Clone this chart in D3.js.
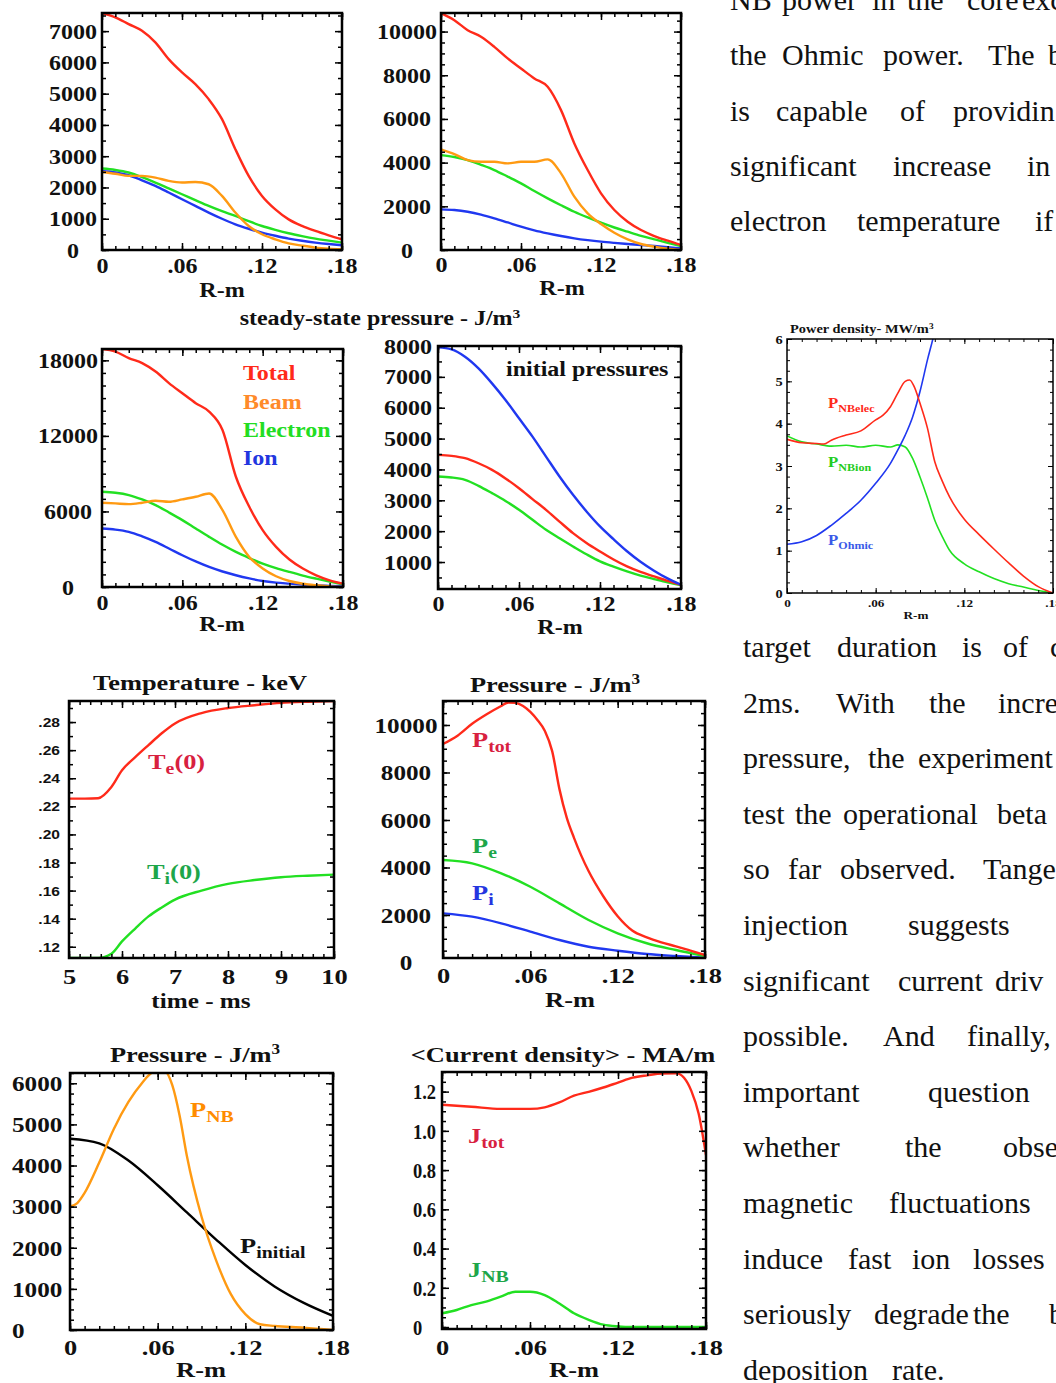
<!DOCTYPE html>
<html>
<head>
<meta charset="utf-8">
<script src="https://cdn.jsdelivr.net/npm/d3@7"></script>
<style>
  body { margin: 0; background: #fff; }
  svg { display: block; }
</style>
</head>
<body>
<svg id="fig" width="1056" height="1383"></svg>
<script>
// ---------------- data ----------------
// radius grids, m
var rFine = [0, .01, .02, .03, .04, .05, .06, .07, .08, .09, .10, .11, .12, .13, .14, .15, .16, .17, .18];
var rCoarse = [0, .02, .04, .06, .08, .10, .12, .14, .16, .18];

// steady-state pressure, top left (J/m3)
var ssA_total = [7580, 7440, 7225, 7010, 6640, 6105, 5680, 5305, 4825, 4185, 3225, 2370, 1730, 1300, 980, 770, 610, 470, 340];
var ssA_beam  = [2497, 2440, 2370, 2370, 2317, 2210, 2157, 2176, 2103, 1729, 1197, 768, 503, 342, 214, 140, 77, 40, 22];
var ssA_elec  = [2605, 2560, 2478, 2330, 2157, 1970, 1783, 1595, 1409, 1240, 1088, 920, 768, 645, 535, 445, 365, 300, 237];
var ssA_ion   = [2530, 2480, 2390, 2230, 2050, 1840, 1623, 1410, 1197, 1000, 823, 680, 557, 455, 365, 295, 237, 190, 150];

// steady-state pressure, top middle
var ssB_total = [10840, 10520, 10065, 9760, 9300, 8770, 8310, 7855, 7470, 6404, 4880, 3660, 2595, 1830, 1295, 915, 640, 425, 229];
var ssB_beam  = [4605, 4390, 4117, 4040, 4040, 3965, 4040, 4040, 4150, 3510, 2440, 1680, 1190, 793, 488, 275, 153, 60, 0];
var ssB_elec  = [4346, 4260, 4117, 3900, 3660, 3360, 3050, 2700, 2365, 2050, 1750, 1490, 1250, 1030, 838, 650, 488, 330, 183];
var ssB_ion   = [1860, 1830, 1750, 1620, 1450, 1260, 1067, 900, 762, 640, 534, 450, 381, 325, 275, 228, 183, 130, 76];

// steady-state pressure with legend, second row left
var ssC_total = [18900, 18700, 18180, 17780, 17110, 16190, 15390, 14600, 13930, 12470, 8756, 6370, 4513, 3184, 2180, 1465, 931, 533, 268];
var ssC_beam  = [6690, 6637, 6583, 6690, 6850, 6770, 6957, 7164, 7430, 6105, 3980, 2388, 1465, 851, 478, 260, 135, 50, 0];
var ssC_elec  = [7562, 7480, 7300, 6950, 6503, 5920, 5309, 4640, 3980, 3350, 2786, 2300, 1858, 1500, 1194, 910, 663, 430, 212];
var ssC_ion   = [4645, 4560, 4380, 4020, 3582, 3060, 2523, 2030, 1592, 1230, 931, 680, 478, 350, 268, 190, 135, 90, 56];

// initial pressures
var initRed   = [4472, 4440, 4364, 4200, 3987, 3710, 3393, 3040, 2692, 2310, 1937, 1620, 1343, 1080, 858, 680, 534, 390, 264];
var initGreen = [3771, 3740, 3663, 3470, 3232, 2980, 2692, 2370, 2045, 1770, 1506, 1250, 1020, 850, 696, 560, 448, 340, 250];
var initBlue  = [7954, 7889, 7652, 7274, 6789, 6250, 5657, 5063, 4416, 3771, 3177, 2638, 2153, 1740, 1350, 1010, 720, 470, 264];

// power density inset (MW/m3)
var pdElecR = [0, .01, .02, .025, .03, .04, .05, .06, .065, .07, .075, .08, .083, .086, .09, .095, .10, .105, .11, .12, .13, .14, .15, .16, .17, .18];
var pdElec  = [3.63, 3.55, 3.53, 3.52, 3.61, 3.73, 3.83, 4.09, 4.2, 4.4, 4.72, 5.0, 5.03, 4.88, 4.48, 3.9, 3.1, 2.65, 2.27, 1.74, 1.38, 1.04, 0.71, 0.40, 0.15, 0];
var pdIonR  = [0, .01, .02, .03, .04, .05, .06, .07, .075, .08, .085, .09, .095, .10, .105, .11, .12, .13, .14, .15, .16, .17, .18];
var pdIon   = [3.71, 3.57, 3.52, 3.47, 3.49, 3.45, 3.49, 3.45, 3.5, 3.45, 3.18, 2.74, 2.25, 1.72, 1.34, 1.01, 0.69, 0.50, 0.34, 0.22, 0.14, 0.06, 0];
var pdOhmR  = [0, .01, .02, .03, .04, .05, .06, .07, .075, .08, .085, .09, .095, .10, .105];
var pdOhm   = [1.15, 1.21, 1.36, 1.60, 1.88, 2.19, 2.59, 3.06, 3.38, 3.73, 4.16, 4.76, 5.5, 6.2, 7.2];

// central temperatures vs time (ms, keV)
var tTime = [5, 5.3, 5.55, 5.8, 6, 6.25, 6.5, 6.75, 7, 7.5, 8, 8.5, 9, 9.5, 10];
var tElec = [0.2255, 0.2255, 0.2258, 0.2338, 0.2457, 0.255, 0.2636, 0.272, 0.279, 0.2864, 0.290, 0.292, 0.2937, 0.2945, 0.295];
var tIon  = [0.112, 0.112, 0.112, 0.115, 0.1238, 0.133, 0.1416, 0.148, 0.1536, 0.160, 0.1648, 0.1675, 0.1695, 0.1706, 0.1714];

// pressure profiles (J/m3)
var prTotR = [0, .01, .02, .03, .04, .045, .05, .055, .06, .065, .07, .075, .08, .085, .09, .095, .10, .11, .12, .13, .14, .15, .16, .17, .18];
var prTot  = [9200, 9550, 10050, 10450, 10800, 10950, 10930, 10800, 10550, 10200, 9750, 8900, 7300, 6100, 5250, 4500, 3850, 2800, 1950, 1350, 1060, 850, 680, 500, 316];
var prElec = [4316, 4176, 3755, 3190, 2490, 1790, 1230, 810, 526, 274];
var prIon  = [2070, 1930, 1650, 1300, 947, 665, 497, 358, 274, 203];

// beam vs initial pressure (J/m3)
var nbR    = [0, .005, .01, .02, .03, .04, .05, .055, .06, .065, .07, .075, .08, .09, .10, .11, .12, .13, .14, .16, .18];
var nbBeam = [3005, 3088, 3334, 4071, 4890, 5545, 6037, 6230, 6300, 6290, 5953, 5216, 4233, 2760, 1695, 877, 386, 140, 98, 57, 0];
var pInit  = [4650, 4540, 4120, 3520, 2860, 2200, 1580, 1060, 660, 344];

// current density (MA/m2)
var jTotR = [0, .02, .04, .06, .07, .08, .09, .10, .11, .12, .13, .14, .15, .16, .165, .17, .175, .18];
var jTot  = [1.133, 1.123, 1.112, 1.112, 1.12, 1.145, 1.179, 1.199, 1.221, 1.246, 1.271, 1.283, 1.292, 1.293, 1.271, 1.204, 1.087, 0.877];
var jNbR  = [0, .01, .02, .03, .04, .05, .06, .07, .08, .09, .10, .11, .12, .13, .15, .18];
var jNb   = [0.07, 0.087, 0.112, 0.13, 0.155, 0.18, 0.18, 0.163, 0.12, 0.07, 0.037, 0.012, 0.003, 0, 0, 0];

// tick labels
var rTicks = [0, .06, .12, .18];
var timeTicks = [5, 6, 7, 8, 9, 10];

// ---------------- drawing ----------------
var svg = d3.select("#fig");
var SERIF = "'Liberation Serif', 'Times New Roman', Times, serif";
var SANS = "'Liberation Sans', Arial, Helvetica, sans-serif";
var SX = 1.2;   // the figure is stretched sideways
var RED = "#ff2a1a", ORANGE = "#ff9a12", GREEN = "#22e022", BLUE = "#2038f0";
var CRIMSON = "#d8213f", DKGREEN = "#1ea64a";
var clipN = 0;

var fmtR = function (v) { return v === 0 ? "0" : d3.format(".2f")(v).replace(/^0/, ""); };

function steps(lo, hi, step) {
  var n = Math.round((hi - lo) / step), out = [];
  for (var i = 0; i <= n; i++) out.push(+(lo + i * step).toFixed(6));
  return out;
}

function within(d, vals) {
  var lo = Math.min(d[0], d[1]), hi = Math.max(d[0], d[1]);
  return vals.filter(function (v) { return v >= lo - 1e-9 && v <= hi + 1e-9; });
}

// text with optional sub/superscript pieces
function label(parent, x, y, parts, o) {
  o = o || {};
  var size = o.size || 20;
  var t = parent.append("text")
    .attr("transform", "translate(" + x + "," + y + ") scale(" + (o.sx || SX) + ",1)")
    .attr("text-anchor", o.anchor || "start")
    .attr("font-family", o.family || SERIF)
    .attr("font-weight", o.weight || "bold")
    .attr("font-size", size)
    .attr("fill", o.color || "#111");
  var shift = 0;
  parts.forEach(function (p) {
    var s = typeof p === "string" ? [p, ""] : p;
    var to = s[1] === "sub" ? size * (o.drop || 0.22) : s[1] === "sup" ? -size * 0.35 : 0;
    var ts = t.append("tspan").text(s[0]).attr("dy", to - shift);
    if (s[1]) ts.attr("font-size", size * (s[1] === "sub" ? (o.subScale || 0.75) : 0.65));
    shift = to;
  });
  return t;
}

function ticks(g, s, side, vals, size, b, w) {
  var gen = side === "bottom" ? d3.axisBottom(s) : side === "top" ? d3.axisTop(s)
          : side === "left" ? d3.axisLeft(s) : d3.axisRight(s);
  var pos = side === "bottom" ? [0, b[3]] : side === "top" ? [0, b[2]]
          : side === "left" ? [b[0], 0] : [b[1], 0];
  g.append("g").attr("transform", "translate(" + pos + ")")
    .call(gen.tickValues(vals).tickSize(-size).tickFormat(""))
    .call(function (a) { a.select(".domain").remove(); a.selectAll("text").remove(); })
    .selectAll("line").attr("stroke", "#000").attr("stroke-width", w);
}

function panel(c) {
  var b = c.box, g = svg.append("g");
  var x = d3.scaleLinear().domain(c.xd).range([b[0], b[1]]);
  var y = d3.scaleLinear().domain(c.yd).range([b[3], b[2]]);
  var id = "clip" + (clipN++);
  g.append("clipPath").attr("id", id).append("rect")
    .attr("x", b[0]).attr("y", b[2]).attr("width", b[1] - b[0]).attr("height", b[3] - b[2]);

  var line = d3.line()
    .x(function (d) { return x(d[0]); })
    .y(function (d) { return y(d[1]); })
    .curve(d3.curveMonotoneX);
  c.series.forEach(function (s) {
    g.append("path").datum(d3.zip(s[0], s[1]))
      .attr("clip-path", "url(#" + id + ")")
      .attr("fill", "none").attr("stroke", s[2]).attr("stroke-width", c.lineW || 2.4)
      .attr("stroke-linejoin", "round").attr("d", line);
  });

  var tk = c.tick || [7, 4], tw = c.tickW || 1.5;
  ["bottom", "top"].forEach(function (side) {
    ticks(g, x, side, within(c.xd, c.xMinor), tk[1], b, tw);
    ticks(g, x, side, within(c.xd, c.xMajor), tk[0], b, tw);
  });
  ["left", "right"].forEach(function (side) {
    ticks(g, y, side, within(c.yd, c.yMinor), tk[1], b, tw);
    ticks(g, y, side, within(c.yd, c.yMajor), tk[0], b, tw);
  });
  g.append("rect").attr("x", b[0]).attr("y", b[2])
    .attr("width", b[1] - b[0]).attr("height", b[3] - b[2])
    .attr("fill", "none").attr("stroke", "#000").attr("stroke-width", c.frameW || 2.5);

  // x tick labels
  var xl = c.xLab;
  var ax = g.append("g").attr("transform", "translate(0," + xl.y + ")")
    .call(d3.axisBottom(x).tickValues(xl.vals).tickFormat(xl.fmt).tickSize(0));
  ax.select(".domain").remove();
  ax.attr("font-family", SERIF).attr("font-size", xl.size).attr("font-weight", "bold").attr("color", "#111");
  ax.selectAll("text").attr("y", 0).attr("dy", "0.35em").attr("transform", "scale(" + (xl.sx || SX) + ",1)");

  // y tick labels
  var yl = c.yLab;
  var ay = g.append("g").attr("transform", "translate(" + yl.x + ",0)")
    .call(d3.axisLeft(y).tickValues(yl.vals).tickFormat(yl.fmt).tickSize(0));
  ay.select(".domain").remove();
  ay.attr("font-family", yl.family || SERIF).attr("font-size", yl.size).attr("font-weight", "bold")
    .attr("color", "#111").attr("text-anchor", yl.anchor);
  ay.selectAll("text").attr("x", 0).attr("dy", "0.35em").attr("transform", "scale(" + (yl.sx || SX) + ",1)");

  return {g: g, x: x, y: y};
}

// ---- row 1: steady-state pressure
var p1 = panel({
  box: [102, 342, 13, 250], xd: [0, .18], yd: [0, 7580],
  series: [[rFine, ssA_elec, GREEN], [rFine, ssA_ion, BLUE], [rFine, ssA_beam, ORANGE], [rFine, ssA_total, RED]],
  xMajor: rTicks, xMinor: steps(0, .18, .01), yMajor: steps(0, 7000, 1000), yMinor: steps(0, 7500, 500),
  xLab: {vals: rTicks, fmt: fmtR, y: 266, size: 20},
  yLab: {vals: steps(0, 7000, 1000), fmt: d3.format("d"), x: 73, anchor: "middle", size: 20}
});
label(p1.g, 222, 297, ["R-m"], {anchor: "middle", size: 20});

var p2 = panel({
  box: [441, 681, 13, 250], xd: [0, .18], yd: [0, 10850],
  series: [[rFine, ssB_elec, GREEN], [rFine, ssB_ion, BLUE], [rFine, ssB_beam, ORANGE], [rFine, ssB_total, RED]],
  xMajor: rTicks, xMinor: steps(0, .18, .01), yMajor: steps(0, 10000, 2000), yMinor: steps(0, 10500, 500),
  xLab: {vals: rTicks, fmt: fmtR, y: 265, size: 20},
  yLab: {vals: steps(0, 10000, 2000), fmt: d3.format("d"), x: 407, anchor: "middle", size: 20}
});
label(p2.g, 562, 295, ["R-m"], {anchor: "middle", size: 20});
label(svg, 380, 325, ["steady-state pressure - J/m", ["3", "sup"]], {anchor: "middle", size: 20});

// ---- row 2
var p3 = panel({
  box: [102, 343, 349, 587], xd: [0, .18], yd: [0, 18900],
  series: [[rFine, ssC_elec, GREEN], [rFine, ssC_ion, BLUE], [rFine, ssC_beam, ORANGE], [rFine, ssC_total, RED]],
  xMajor: rTicks, xMinor: steps(0, .18, .01), yMajor: steps(0, 18000, 6000), yMinor: steps(0, 18000, 1000),
  xLab: {vals: rTicks, fmt: fmtR, y: 603, size: 20},
  yLab: {vals: steps(0, 18000, 6000), fmt: d3.format("d"), x: 68, anchor: "middle", size: 20}
});
label(p3.g, 222, 631, ["R-m"], {anchor: "middle", size: 20});
label(p3.g, 243, 380, ["Total"], {size: 20, color: "#ff2a1a"});
label(p3.g, 243, 409, ["Beam"], {size: 20, color: "#ff8a2a"});
label(p3.g, 243, 437, ["Electron"], {size: 20, color: "#22dd22"});
label(p3.g, 243, 465, ["Ion"], {size: 20, color: "#2236e0"});

var p4 = panel({
  box: [438, 681, 346, 589], xd: [0, .18], yd: [126, 8000],
  series: [[rFine, initGreen, GREEN], [rFine, initRed, RED], [rFine, initBlue, BLUE]],
  xMajor: rTicks, xMinor: steps(0, .18, .01), yMajor: steps(1000, 8000, 1000), yMinor: steps(500, 8000, 500),
  xLab: {vals: rTicks, fmt: fmtR, y: 604, size: 20},
  yLab: {vals: steps(1000, 8000, 1000), fmt: d3.format("d"), x: 408, anchor: "middle", size: 20}
});
label(p4.g, 560, 634, ["R-m"], {anchor: "middle", size: 20});
label(p4.g, 506, 376, ["initial pressures"], {size: 20});

// ---- power density inset
var p5 = panel({
  box: [787, 1053, 339, 593], xd: [0, .18], yd: [0, 6],
  series: [[pdIonR, pdIon, GREEN], [pdOhmR, pdOhm, BLUE], [pdElecR, pdElec, RED]],
  xMajor: rTicks, xMinor: steps(0, .18, .01), yMajor: steps(0, 6, 1), yMinor: steps(0, 6, .25),
  tick: [5, 3], tickW: 1, frameW: 1.5, lineW: 1.6,
  xLab: {vals: rTicks, fmt: fmtR, y: 603, size: 11},
  yLab: {vals: steps(0, 6, 1), fmt: d3.format("d"), x: 779, anchor: "middle", size: 12}
});
label(p5.g, 916, 619, ["R-m"], {anchor: "middle", size: 11});
label(p5.g, 790, 333, ["Power density- MW/m", ["3", "sup"]], {size: 12});
label(p5.g, 828, 408, ["P", ["NBelec", "sub"]], {size: 14, color: "#ff2a1a", subScale: 0.72, drop: 0.28});
label(p5.g, 828, 467, ["P", ["NBion", "sub"]], {size: 14, color: "#22cc22", subScale: 0.72, drop: 0.28});
label(p5.g, 828, 545, ["P", ["Ohmic", "sub"]], {size: 14, color: "#3a5ae8", subScale: 0.72, drop: 0.28});

// ---- row 3: temperature vs time
var p6 = panel({
  box: [69, 334, 701, 958], xd: [5, 10], yd: [0.112, 0.295],
  series: [[tTime, tElec, RED], [tTime, tIon, GREEN]],
  xMajor: timeTicks, xMinor: steps(5, 10, .2), yMajor: steps(.12, .28, .02), yMinor: steps(.12, .29, .01),
  xLab: {vals: timeTicks, fmt: d3.format("d"), y: 976, size: 22},
  yLab: {vals: steps(.12, .28, .02), fmt: function (v) { return d3.format(".2f")(v).replace(/^0/, ""); },
         x: 60, anchor: "end", size: 13, family: SANS}
});
label(p6.g, 201, 1008, ["time - ms"], {anchor: "middle", size: 21});
label(p6.g, 200, 690, ["Temperature - keV"], {anchor: "middle", size: 22});
label(p6.g, 148, 769, ["T", ["e", "sub"], "(0)"], {size: 22, color: CRIMSON});
label(p6.g, 147, 879, ["T", ["i", "sub"], "(0)"], {size: 22, color: DKGREEN});

var p7 = panel({
  box: [443, 705, 701, 958], xd: [0, .18], yd: [190, 11010],
  series: [[rCoarse, prIon, BLUE], [rCoarse, prElec, GREEN], [prTotR, prTot, RED]],
  xMajor: rTicks, xMinor: steps(0, .18, .01), yMajor: steps(2000, 10000, 2000), yMinor: steps(500, 11000, 500),
  xLab: {vals: rTicks, fmt: fmtR, y: 975, size: 22},
  yLab: {vals: steps(0, 10000, 2000), fmt: d3.format("d"), x: 406, anchor: "middle", size: 21}
});
label(p7.g, 570, 1007, ["R-m"], {anchor: "middle", size: 22});
label(p7.g, 555, 692, ["Pressure - J/m", ["3", "sup"]], {anchor: "middle", size: 22});
label(p7.g, 472, 747, ["P", ["tot", "sub"]], {size: 22, color: CRIMSON});
label(p7.g, 472, 853, ["P", ["e", "sub"]], {size: 22, color: DKGREEN});
label(p7.g, 472, 900, ["P", ["i", "sub"]], {size: 22, color: "#2435e0"});

// ---- row 4
var p8 = panel({
  box: [70, 333, 1073, 1330], xd: [0, .18], yd: [0, 6250],
  series: [[rCoarse, pInit, "#000"], [nbR, nbBeam, ORANGE]],
  xMajor: rTicks, xMinor: steps(0, .18, .01), yMajor: steps(0, 6000, 1000), yMinor: steps(0, 6250, 250),
  xLab: {vals: rTicks, fmt: fmtR, y: 1347, size: 22},
  yLab: {vals: steps(0, 6000, 1000), fmt: d3.format("d"), x: 12, anchor: "start", size: 21}
});
label(p8.g, 201, 1377, ["R-m"], {anchor: "middle", size: 22});
label(p8.g, 195, 1062, ["Pressure - J/m", ["3", "sup"]], {anchor: "middle", size: 22});
label(p8.g, 190, 1117, ["P", ["NB", "sub"]], {size: 22, color: "#ff8c00"});
label(p8.g, 240, 1253, ["P", ["initial", "sub"]], {size: 22, color: "#111"});

var p9 = panel({
  box: [442, 706, 1072, 1329], xd: [0, .18], yd: [-0.01, 1.3],
  series: [[jNbR, jNb, GREEN], [jTotR, jTot, RED]],
  xMajor: rTicks, xMinor: steps(0, .18, .01), yMajor: steps(0, 1.2, .2), yMinor: steps(0, 1.3, .05),
  xLab: {vals: rTicks, fmt: fmtR, y: 1347, size: 22},
  yLab: {vals: steps(0, 1.2, .2), fmt: function (v) { return v === 0 ? "0" : d3.format(".1f")(v); },
         x: 413, anchor: "start", size: 21, sx: 0.88}
});
label(p9.g, 574, 1377, ["R-m"], {anchor: "middle", size: 22});
label(p9.g, 563, 1062, ["<Current density> - MA/m"], {anchor: "middle", size: 22});
label(p9.g, 468, 1143, ["J", ["tot", "sub"]], {size: 22, color: CRIMSON});
label(p9.g, 468, 1277, ["J", ["NB", "sub"]], {size: 22, color: DKGREEN});

// ---------------- surrounding paper text (justified, clipped at the page edge) ----------------
var topLines = [
  [["NB", 730], ["power", 782], ["in", 872], ["the", 907], ["core", 967], ["exc", 1022]],
  [["the", 730], ["Ohmic", 782], ["power.", 883], ["The", 988], ["b", 1048]],
  [["is", 730], ["capable", 776], ["of", 900], ["providin", 953]],
  [["significant", 730], ["increase", 893], ["in", 1027]],
  [["electron", 730], ["temperature", 857], ["if", 1035]]
];
var bottomLines = [
  [["target", 743], ["duration", 837], ["is", 962], ["of", 1003], ["c", 1050]],
  [["2ms.", 743], ["With", 836], ["the", 929], ["incre", 998]],
  [["pressure,", 743], ["the", 868], ["experiment", 918]],
  [["test", 743], ["the", 795], ["operational", 843], ["beta", 997]],
  [["so", 743], ["far", 788], ["observed.", 840], ["Tange", 983]],
  [["injection", 743], ["suggests", 908]],
  [["significant", 743], ["current", 898], ["driv", 995]],
  [["possible.", 743], ["And", 883], ["finally,", 967]],
  [["important", 743], ["question", 928]],
  [["whether", 743], ["the", 905], ["obse", 1003]],
  [["magnetic", 743], ["fluctuations", 889]],
  [["induce", 743], ["fast", 848], ["ion", 912], ["losses", 973]],
  [["seriously", 743], ["degrade", 874], ["the", 973], ["b", 1049]],
  [["deposition", 743], ["rate.", 892]]
];

function para(lines, y0, lh) {
  var g = svg.append("g").attr("font-family", SERIF).attr("font-size", 30).attr("fill", "#111");
  lines.forEach(function (words, i) {
    g.selectAll(null).data(words).enter().append("text")
      .attr("x", function (d) { return d[1]; })
      .attr("y", y0 + i * lh)
      .text(function (d) { return d[0]; });
  });
}
para(topLines, 10, 55.3);
para(bottomLines, 657, 55.6);
</script>
</body>
</html>
